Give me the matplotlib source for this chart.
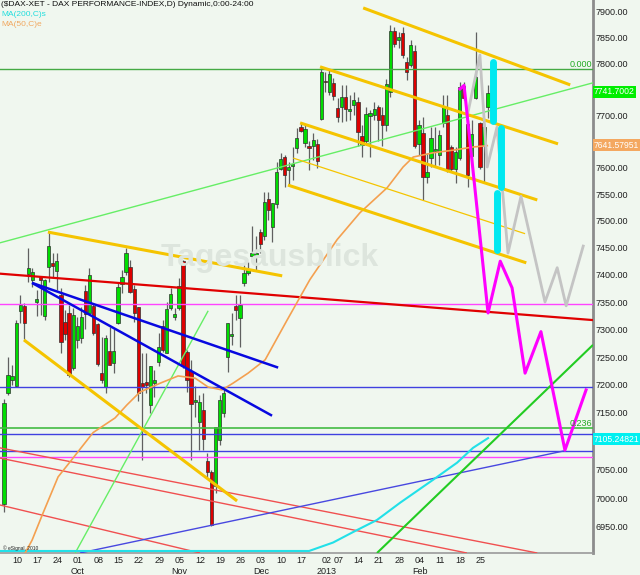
import numpy as np
import matplotlib
matplotlib.use('Agg')
from matplotlib import pyplot as plt
from matplotlib.ticker import NullLocator, FixedLocator, FixedFormatter

plt.rcParams['font.family'] = ['Liberation Sans', 'DejaVu Sans']

# daily candles, bar 0 = 06 Sep 2012, last bar = 28 Feb 2013
opens = [6990, 7186, 7209, 7198, 7334, 7343, 7402, 7391, 7352, 7395,
         7325, 7415, 7422, 7407, 7363, 7314, 7330, 7231, 7281, 7285,
         7370, 7330, 7343, 7309, 7222, 7196, 7261, 7240, 7312, 7383,
         7405, 7415, 7374, 7341, 7203, 7203, 7164, 7205, 7241, 7307,
         7258, 7339, 7323, 7339, 7426, 7259, 7224, 7170, 7134, 7155,
         7065, 7046, 7021, 7102, 7150, 7250, 7288, 7343, 7321, 7385,
         7404, 7435, 7435, 7480, 7472, 7541, 7489, 7532, 7597, 7620,
         7597, 7604, 7637, 7677, 7646, 7640, 7640, 7645, 7692, 7766,
         7745, 7762, 7714, 7716, 7735, 7708, 7720, 7725, 7660, 7650,
         7700, 7700, 7715, 7700, 7680, 7744, 7862, 7845, 7859, 7802,
         7797, 7823, 7645, 7666, 7582, 7619, 7632, 7623, 7685, 7700,
         7639, 7597, 7618, 7756, 7683, 7622, 7733, 7685, 7642, 7716]
highs = [7175, 7250, 7236, 7318, 7363, 7349, 7450, 7413, 7372, 7396,
         7393, 7480, 7441, 7441, 7376, 7336, 7345, 7339, 7323, 7341,
         7381, 7413, 7349, 7312, 7287, 7290, 7305, 7300, 7385, 7409,
         7450, 7428, 7381, 7341, 7258, 7258, 7234, 7227, 7294, 7318,
         7350, 7376, 7339, 7394, 7428, 7263, 7245, 7198, 7182, 7186,
         7079, 7049, 7125, 7182, 7197, 7312, 7330, 7363, 7363, 7418,
         7424, 7490, 7472, 7485, 7554, 7554, 7533, 7610, 7627, 7623,
         7610, 7639, 7675, 7685, 7681, 7650, 7665, 7655, 7791, 7782,
         7788, 7772, 7733, 7758, 7758, 7739, 7745, 7735, 7680, 7715,
         7710, 7725, 7720, 7715, 7770, 7874, 7870, 7860, 7870, 7812,
         7845, 7836, 7690, 7696, 7627, 7677, 7677, 7671, 7739, 7739,
         7642, 7639, 7764, 7764, 7690, 7690, 7861, 7687, 7684, 7758]
lows = [6975, 7182, 7200, 7196, 7312, 7283, 7387, 7378, 7325, 7327,
        7318, 7387, 7396, 7372, 7258, 7281, 7214, 7227, 7267, 7276,
        7300, 7330, 7290, 7233, 7203, 7186, 7236, 7222, 7309, 7367,
        7400, 7367, 7314, 7172, 7067, 7186, 7150, 7179, 7233, 7260,
        7258, 7336, 7318, 7336, 7231, 7187, 7067, 7143, 7084, 7084,
        7037, 6951, 7009, 7093, 7143, 7223, 7272, 7318, 7268, 7380,
        7400, 7426, 7409, 7441, 7465, 7502, 7461, 7524, 7595, 7564,
        7567, 7576, 7627, 7668, 7639, 7595, 7615, 7600, 7690, 7745,
        7739, 7729, 7687, 7687, 7689, 7690, 7700, 7640, 7620, 7645,
        7620, 7690, 7650, 7640, 7670, 7735, 7832, 7830, 7810, 7768,
        7793, 7637, 7623, 7539, 7571, 7601, 7601, 7604, 7677, 7592,
        7592, 7571, 7614, 7729, 7564, 7601, 7731, 7597, 7571, 7694]
closes = [7167, 7218, 7216, 7312, 7345, 7312, 7413, 7405, 7354, 7390,
          7391, 7454, 7416, 7425, 7278, 7292, 7218, 7327, 7307, 7323,
          7329, 7400, 7294, 7238, 7209, 7285, 7236, 7261, 7378, 7396,
          7441, 7369, 7330, 7185, 7196, 7201, 7233, 7207, 7268, 7263,
          7338, 7365, 7329, 7380, 7233, 7209, 7166, 7172, 7170, 7103,
          7046, 6953, 7125, 7173, 7186, 7312, 7292, 7336, 7345, 7404,
          7409, 7441, 7441, 7456, 7535, 7520, 7533, 7591, 7616, 7586,
          7599, 7606, 7656, 7669, 7673, 7637, 7652, 7612, 7782, 7763,
          7780, 7737, 7696, 7735, 7712, 7711, 7729, 7667, 7643, 7702,
          7702, 7711, 7690, 7681, 7760, 7862, 7837, 7851, 7816, 7782,
          7836, 7640, 7681, 7583, 7591, 7656, 7634, 7662, 7717, 7597,
          7597, 7629, 7754, 7733, 7586, 7664, 7774, 7601, 7677, 7742]

day_ticks = [2, 7, 12, 17, 22, 27, 32, 37, 42, 47, 52, 57, 62, 67, 72,
             78, 81, 86, 91, 96, 101, 106, 111, 116]
day_labels = ['10', '17', '24', '01', '08', '15', '22', '29', '05', '12', '19', '26',
              '03', '10', '17', '02', '07', '14', '21', '28', '04', '11', '18', '25']
month_ticks = [17, 42, 62, 78, 101]
month_labels = ['Oct', 'Nov', 'Dec', '2013', 'Feb']

# price scale (levels hidden under the last-value boxes are left out)
price_ticks = [p for p in range(6950, 7901, 50) if p not in (7750, 7650, 7100)]

# moving averages
ma50_x = [5.2, 6.9, 9.6, 13.3, 16.2, 21.9, 27.3, 30.2, 33.4, 38.4, 42.8, 47.0, 50.2,
          53.6, 56.3, 60.0, 64.2, 69.6, 75.2, 81.9, 87.5, 94.2, 98.1, 100.6, 105.5,
          110.4, 115.3, 118.8]
ma50_y = [6905, 6927, 6974, 7037, 7063, 7115, 7141, 7164, 7187, 7203, 7216, 7212, 7196,
          7191, 7203, 7221, 7245, 7317, 7391, 7465, 7515, 7562, 7601, 7620, 7628,
          7633, 7639, 7641.58]
ma200_x = [-1, 20, 40, 60, 75, 80.9, 85.8, 91.7, 97.4, 105.5, 111.4, 115.3, 119]
ma200_y = [6700, 6740, 6790, 6850, 6905, 6923, 6941, 6962, 6992, 7032, 7062, 7088, 7105.25]

# horizontal levels
magenta_levels = [7347, 7072]
blue_levels = [7196.5, 7112.8, 7082.8]
fib_000 = 7789
fib_236 = 7123.5

# trend lines as (x0, price0, x1, price1)
yellow_thick = [(10.8, 7479, 68.4, 7398), (4.9, 7281, 57.3, 6995),
                (88.3, 7908, 139.2, 7758), (77.7, 7793, 136.2, 7645),
                (72.8, 7685, 131.1, 7539), (69.8, 7567, 128.4, 7422)]
yellow_thin = [(71.1, 7618, 128.1, 7476)]
blue_thick = [(6.9, 7385, 67.4, 7231), (6.9, 7385, 65.9, 7145)]
blue_thin = [(18.7, 6905, 137.9, 7083)]
red_thick = [(-1.0, 7402, 144.8, 7317)]
red_thin = [(-1.0, 7088, 131.1, 6905), (-1.0, 7070, 113.8, 6905), (-1.0, 6988, 48.2, 6905)]
green_thin = [(-1.0, 7459, 144.8, 7762), (17.5, 6905, 50.2, 7334)]
green_thick = [(91.7, 6905, 144.8, 7272)]

# projections
magenta_x = [112.1, 113.1, 119.0, 122.0, 124.9, 128.1, 132.0, 137.9, 143.1]
magenta_y = [7750, 7757, 7330, 7425, 7376, 7221, 7296, 7084, 7191]
gray_x = [114.1, 117.0, 118.8, 121.2, 123.9, 127.1, 133.0, 136.0, 138.2, 142.4]
gray_y = [7706, 7816, 7601, 7677, 7440, 7546, 7350, 7413, 7343, 7453]
cyan_x = [120.2, 122.2, 121.2]
cyan_top = [7802, 7675, 7552]
cyan_bot = [7689, 7564, 7446]

bg = '#f0f7ef'
fig = plt.figure(figsize=(6.4, 5.75), dpi=100, facecolor=bg)
ax = fig.add_axes([0, 1 - 553 / 575., 593 / 640., 553 / 575.])
ax.set_facecolor(bg)
ax.set_yscale('log')
ylo, yhi = 6905, 7923.6
ax.set_ylim(ylo, yhi)
ax.set_xlim(-0.98, 144.8)

# watermark
fig.text(270 / 640., 1 - 258 / 575., 'Tagesausblick', fontsize=23, fontweight='bold',
         color='#dde5dd', ha='center', va='center', zorder=0)

# candles
for i in range(len(opens)):
    o, h, l, c = opens[i], highs[i], lows[i], closes[i]
    col = '#00dd00' if c >= o else '#dd0000'
    ax.vlines(i, l, h, color='#606060', lw=0.9, zorder=2)
    lo, hi = min(o, c), max(o, c)
    if hi - lo < 3:
        lo, hi = lo - 1.5, hi + 1.5
    ax.bar(i, hi - lo, bottom=lo, width=0.8, color=col, edgecolor='#303030',
           lw=0.5, zorder=3)


def seg(lines, **kw):
    for x0, y0, x1, y1 in lines:
        ax.plot([x0, x1], [y0, y1], solid_capstyle='butt', **kw)


for v in magenta_levels:
    ax.axhline(v, color='#ff44ff', lw=1, zorder=4)
for v in blue_levels:
    ax.axhline(v, color='#4040e0', lw=1, zorder=4)
ax.axhline(fib_000, color='#44aa44', lw=1, zorder=4)
ax.axhline(fib_236, color='#44bb44', lw=1.2, zorder=4)

seg(red_thin, color='#f05050', lw=1, zorder=4)
seg(red_thick, color='#e00000', lw=1.6, zorder=4)
seg(blue_thin, color='#4848e0', lw=1, zorder=4)
seg(blue_thick, color='#0808e0', lw=1.8, zorder=5)
seg(green_thin, color='#66ee66', lw=1, zorder=4)
seg(green_thick, color='#22cc22', lw=1.5, zorder=4)
seg(yellow_thick, color='#f5c400', lw=2.2, zorder=5)
seg(yellow_thin, color='#f5c400', lw=0.9, zorder=5)

ax.plot(ma200_x, np.clip(ma200_y, ylo * 1.0005, None), color='#22e0e8', lw=1.5, zorder=4)
ax.plot(ma50_x, ma50_y, color='#f4a050', lw=1.2, zorder=4)

ax.plot(gray_x, gray_y, color='#c4c4c4', lw=2, zorder=5)
ax.plot(magenta_x, magenta_y, color='#ff00ff', lw=2.2, zorder=6)
ax.vlines(cyan_x, cyan_bot, cyan_top, color='#00e8f0', lw=5, zorder=6,
          capstyle='round')

ax.text(144.6, fib_000, '0.000', color='#22aa22', fontsize=6.5, ha='right', va='bottom', zorder=7)
ax.text(144.6, fib_236, '0.236', color='#22aa22', fontsize=6.5, ha='right', va='bottom', zorder=7)

# axes styling
for s in ['top', 'left']:
    ax.spines[s].set_visible(False)
ax.spines['right'].set_color('#8c8c8c')
ax.spines['right'].set_linewidth(2)
ax.spines['bottom'].set_color('#9a9a9a')
ax.spines['bottom'].set_linewidth(1.2)

ax.yaxis.tick_right()
ax.yaxis.set_major_locator(FixedLocator(price_ticks))
ax.yaxis.set_major_formatter(FixedFormatter(['%.2f' % p for p in price_ticks]))
ax.yaxis.set_minor_locator(NullLocator())
ax.tick_params(axis='y', length=0, pad=2, labelsize=6.5, labelcolor='#202020')

ax.set_xticks([t + 1.2 for t in day_ticks])
ax.set_xticklabels(day_labels)
ax.xaxis.set_minor_locator(NullLocator())
ax.tick_params(axis='x', length=0, pad=2, labelsize=6.5, labelcolor='#202020')
for t, lbl in zip(month_ticks, month_labels):
    ax.text(t + 1.2, -0.033, lbl, transform=ax.get_xaxis_transform(), fontsize=6.5,
            ha='center', va='center', color='#202020')

# header texts
fig.text(0.002, 1 - 5 / 575., '($DAX-XET - DAX PERFORMANCE-INDEX,D) Dynamic,0:00-24:00',
         fontsize=6, va='center', color='#101010')
fig.text(0.002, 1 - 15 / 575., 'MA(200,C)s', fontsize=6, va='center', color='#22dddd')
fig.text(0.002, 1 - 25 / 575., 'MA(50,C)e', fontsize=6, va='center', color='#f0a860')
fig.text(0.004, 1 - 548 / 575., '\u00a9 eSignal, 2010', fontsize=3.5, va='center', color='#202020')

# last value boxes
for val, y, fc in [('7741.7002', 92, '#00ee00'), ('7641.57951', 145, '#f4a860'),
                   ('7105.24821', 439, '#00f0f0')]:
    fig.text(594 / 640., 1 - y / 575., val, fontsize=6.2, color='white', va='center',
             ha='left', bbox=dict(boxstyle='square,pad=0.15', fc=fc, ec='none'))

fig.savefig('out.png', dpi=100, facecolor=bg)
